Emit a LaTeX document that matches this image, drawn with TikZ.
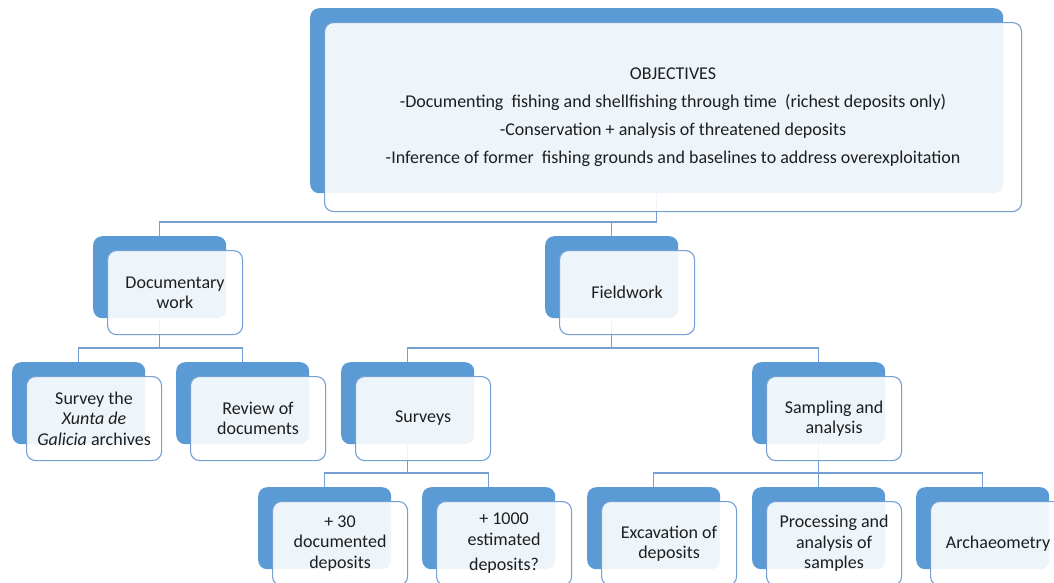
\documentclass[tikz,border=0pt]{standalone}
\usepackage{fontspec}
\setmainfont{Carlito}
\usetikzlibrary{backgrounds}
\definecolor{accent}{RGB}{91,155,213}
\definecolor{edge}{RGB}{118,160,212}
\definecolor{txt}{RGB}{30,30,30}
\tikzset{
  back/.style={draw=none, fill=accent, rounded corners=9pt, anchor=north west, inner sep=0pt},
  front/.style={draw=edge, line width=1.1pt, fill=white, fill opacity=0.9, text opacity=1,
    rounded corners=9pt, anchor=north west, inner sep=0pt, align=center, text=txt,
    font=\fontsize{18}{20.5}\selectfont},
  conn/.style={draw=edge, line width=1.3pt}
}
\newcommand{\pairbox}[6]{%
  \node[back, minimum width=#4pt, minimum height=#5pt] (#1) at (#2pt,-#3pt) {};
  \node[front, minimum width=#4pt+2pt, minimum height=#5pt+2pt] (#1-f)
    at ([shift={(14pt,-14pt)}]#1.north west) {#6};
}
\begin{document}
\begin{tikzpicture}
\useasboundingbox (0pt,0pt) rectangle (1054pt,-582pt);
\clip (0pt,0pt) rectangle (1054pt,-582pt);
\node[back, minimum width=693pt, minimum height=185pt] (obj) at (310pt,-8pt) {};
\node[front, minimum width=697pt, minimum height=189pt, font=\fontsize{18}{28}\selectfont] (obj-f)
  at ([shift={(14pt,-14pt)}]obj.north west)
  {OBJECTIVES\\-Documenting\ \ fishing and shellfishing through time\ \ (richest deposits only)\\-Conservation + analysis of threatened deposits\\-Inference of former\ \ fishing grounds and baselines to address overexploitation};
\pairbox{doc}{93}{236}{133}{82}{Documentary\\work}
\pairbox{field}{545}{236}{133}{82}{Fieldwork}
\pairbox{survey}{12}{362}{133}{82}{Survey the\\\textit{Xunta de}\\\textit{Galicia} archives}
\pairbox{review}{176}{362}{133}{82}{Review of\\documents}
\pairbox{surveys}{341}{362}{133}{82}{Surveys}
\pairbox{sampling}{752}{362}{133}{82}{Sampling and\\analysis}
\pairbox{thirty}{258}{487}{133}{82}{+ 30\\documented\\deposits}
\pairbox{thousand}{422}{487}{133}{82}{+ 1000\\estimated\\[5pt]deposits?}
\pairbox{excav}{587}{487}{133}{82}{Excavation of\\deposits}
\pairbox{proc}{752}{487}{133}{82}{Processing and\\analysis of\\samples}
\pairbox{arch}{916}{487}{133}{82}{Archaeometry}
\coordinate (bus1) at (0pt,-222pt);
\coordinate (bus2) at (0pt,-348pt);
\coordinate (bus3) at (0pt,-473pt);
\begin{pgfonlayer}{background}
\fill[white] (0pt,0pt) rectangle (1054pt,-582pt);
\draw[conn] (obj.south) -- (obj.south |- bus1) -| (doc.north);
\draw[conn] (obj.south |- bus1) -| (field.north);
\draw[conn] (doc.south) -- (doc.south |- bus2) -| (survey.north);
\draw[conn] (doc.south |- bus2) -| (review.north);
\draw[conn] (field.south) -- (field.south |- bus2) -| (surveys.north);
\draw[conn] (field.south |- bus2) -| (sampling.north);
\draw[conn] (surveys.south) -- (surveys.south |- bus3) -| (thirty.north);
\draw[conn] (surveys.south |- bus3) -| (thousand.north);
\draw[conn] (sampling.south) -- (sampling.south |- bus3) -| (excav.north);
\draw[conn] (sampling.south |- bus3) -| (proc.north);
\draw[conn] (sampling.south |- bus3) -| (arch.north);
\end{pgfonlayer}
\end{tikzpicture}
\end{document}
